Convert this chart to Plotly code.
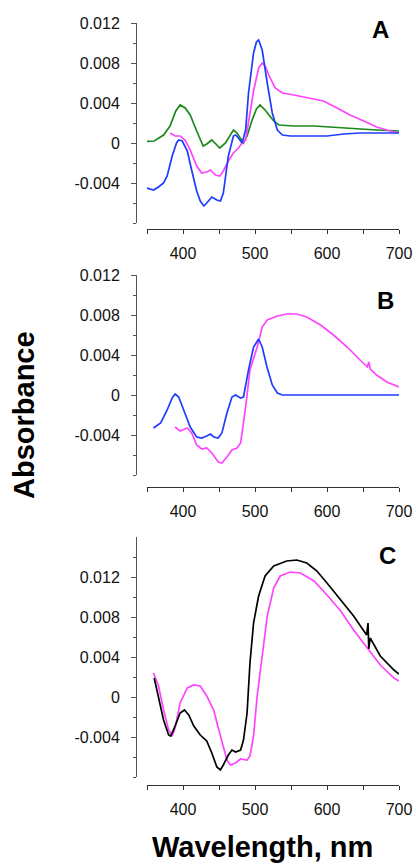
import plotly.graph_objects as go

# Panel A spectra
a_green_wl = [350, 360, 373, 382, 390, 396, 403, 410, 419, 428, 433, 440, 447, 451, 459, 466, 470, 475, 482, 484, 489, 496, 502, 507, 514, 520, 526, 533, 554, 582, 623, 669, 700]
a_green_abs = [0.00017, 0.0002, 0.0008, 0.0017, 0.0032, 0.0038, 0.0035, 0.0028, 0.0012, -0.0003, -0.0001, 0.0003, -0.0002, -0.0005, 0.0, 0.0009, 0.0013, 0.001, 0.0002, 0.0, 0.0007, 0.0023, 0.0034, 0.0038, 0.0033, 0.0027, 0.0022, 0.0018, 0.0017, 0.0017, 0.0015, 0.0013, 0.0012]

a_blue_wl = [350, 359, 366, 373, 378, 385, 391, 394, 399, 406, 412, 419, 424, 429, 433, 440, 447, 452, 456, 463, 470, 473, 477, 482, 487, 491, 498, 502, 505, 510, 517, 524, 531, 538, 549, 577, 600, 623, 646, 700]
a_blue_abs = [-0.0045, -0.0047, -0.0044, -0.004, -0.0033, -0.0013, 0.0, 0.0003, 0.0002, -0.0008, -0.0027, -0.0048, -0.0058, -0.0063, -0.006, -0.0054, -0.0057, -0.0058, -0.005, -0.0013, 0.0007, 0.0008, 0.0005, 0.0, 0.0013, 0.005, 0.009, 0.0101, 0.0103, 0.0093, 0.006, 0.003, 0.0013, 0.0008, 0.0007, 0.0007, 0.0007, 0.0009, 0.001, 0.001]

a_pink_wl = [382, 389, 396, 403, 410, 419, 426, 433, 438, 445, 451, 456, 463, 470, 477, 482, 487, 491, 498, 505, 510, 514, 521, 528, 538, 554, 577, 595, 614, 632, 651, 669, 688, 700]
a_pink_abs = [0.001, 0.0007, 0.0007, 0.0003, -0.0007, -0.0023, -0.003, -0.0029, -0.0027, -0.0032, -0.0033, -0.0028, -0.0018, -0.001, -0.0005, 0.0, 0.0003, 0.002, 0.0052, 0.0075, 0.008, 0.0077, 0.0065, 0.0055, 0.005, 0.0048, 0.0045, 0.0042, 0.0035, 0.0028, 0.0022, 0.0016, 0.0012, 0.001]

# Panel B spectra
b_blue_wl = [359, 369, 378, 385, 389, 394, 401, 410, 419, 426, 433, 438, 443, 449, 454, 461, 468, 473, 480, 484, 491, 498, 505, 510, 517, 524, 531, 538, 580, 640, 700]
b_blue_abs = [-0.0033, -0.0028, -0.0015, -0.0003, 0.0001, -0.0002, -0.0015, -0.0032, -0.0042, -0.0043, -0.0041, -0.0039, -0.0042, -0.0043, -0.0038, -0.0018, -0.0002, 0.0, -0.0003, -0.0002, 0.0025, 0.0048, 0.0056, 0.0048, 0.0027, 0.001, 0.0002, 0.0, 0.0, 0.0, 0.0]

b_pink_wl = [389, 396, 406, 412, 419, 426, 433, 440, 449, 454, 461, 468, 475, 480, 487, 493, 503, 510, 517, 531, 544, 558, 572, 591, 609, 628, 646, 656, 658, 660, 669, 683, 700]
b_pink_abs = [-0.0032, -0.0036, -0.0033, -0.0038, -0.005, -0.0054, -0.0053, -0.0058, -0.0067, -0.0068, -0.0062, -0.0055, -0.0053, -0.0048, -0.0012, 0.0025, 0.0048, 0.0068, 0.0075, 0.0079, 0.0081, 0.0081, 0.0078, 0.007, 0.006, 0.0048, 0.0035, 0.0028, 0.0033, 0.0026, 0.002, 0.0013, 0.0008]

# Panel C spectra
c_black_wl = [360, 366, 373, 380, 383, 389, 396, 402, 408, 415, 424, 433, 440, 447, 452, 456, 463, 468, 473, 480, 484, 489, 493, 498, 505, 514, 526, 544, 558, 572, 586, 600, 619, 637, 655, 657, 658, 660, 674, 693, 700]
c_black_abs = [0.0019, 0.0001, -0.0023, -0.0038, -0.0039, -0.0029, -0.0016, -0.0013, -0.0018, -0.0029, -0.0038, -0.0044, -0.0056, -0.007, -0.0073, -0.0068, -0.0058, -0.0053, -0.0055, -0.0053, -0.0043, -0.0016, 0.0034, 0.0074, 0.0101, 0.0121, 0.0131, 0.0136, 0.0137, 0.0134, 0.0126, 0.0114, 0.0097, 0.0081, 0.0062, 0.0074, 0.0048, 0.0059, 0.0041, 0.0027, 0.0023]

c_pink_wl = [359, 366, 373, 380, 385, 389, 396, 406, 415, 424, 433, 443, 449, 456, 461, 466, 473, 480, 489, 493, 498, 503, 510, 517, 526, 535, 549, 563, 582, 600, 619, 637, 656, 674, 693, 700]
c_pink_abs = [0.0024, 0.0011, -0.0013, -0.0033, -0.0039, -0.0031, -0.0006, 0.0009, 0.0012, 0.0011, 0.0001, -0.0014, -0.0031, -0.0049, -0.0063, -0.0068, -0.0066, -0.0062, -0.0063, -0.0059, -0.0039, 0.0001, 0.0044, 0.0081, 0.0109, 0.0121, 0.0125, 0.0124, 0.0116, 0.0102, 0.0086, 0.0067, 0.0049, 0.0032, 0.0019, 0.0016]

y_tickvals = [-0.004, 0, 0.004, 0.008, 0.012]
y_ticktext = ["-0.004", "0", "0.004", "0.008", "0.012"]
y_minor = [-0.008, -0.006, -0.002, 0.002, 0.006, 0.010, 0.014]
x_tickvals = [350, 400, 450, 500, 550, 600, 650, 700]
x_ticktext = ["", "400", "", "500", "", "600", "", "700"]

BLUE = "#1f3cff"
PINK = "#ff44ff"
GREEN = "#1a8a1a"
BLACK = "#000000"

W, H = 416, 865
FONT = "Liberation Sans, Arial, sans-serif"

def px_y(p):
    return 1 - p / H

def px_x(p):
    return p / W

fig = go.Figure()

panels = [
    # (y top px, y bottom px, x axis px, yrange, traces)
    (23, 223, 229, [-0.008, 0.012],
     [(a_green_wl, a_green_abs, GREEN), (a_pink_wl, a_pink_abs, PINK), (a_blue_wl, a_blue_abs, BLUE)]),
    (275, 475, 487, [-0.008, 0.012],
     [(b_pink_wl, b_pink_abs, PINK), (b_blue_wl, b_blue_abs, BLUE)]),
    (537, 777, 785, [-0.008, 0.016],
     [(c_pink_wl, c_pink_abs, PINK), (c_black_wl, c_black_abs, BLACK)]),
]

layout = {}
for i, (ytop, ybot, xpos, yr, traces) in enumerate(panels, start=1):
    sfx = "" if i == 1 else str(i)
    for wl, ab, col in traces:
        fig.add_trace(go.Scatter(x=wl, y=ab, mode="lines", line=dict(color=col, width=1.7),
                                 xaxis="x" + sfx, yaxis="y" + sfx, showlegend=False, hoverinfo="skip"))
    layout["xaxis" + sfx] = dict(
        domain=[px_x(147), px_x(399)], range=[350, 700], anchor="free", position=px_y(xpos),
        automargin=False,
        showline=True, linecolor="#333", linewidth=1, showgrid=False, zeroline=False,
        tickmode="array", tickvals=x_tickvals, ticktext=x_ticktext,
        ticks="outside", ticklen=4, tickcolor="#333", ticklabelstandoff=6,
        tickfont=dict(family=FONT, size=16, color="#111"),
    )
    layout["yaxis" + sfx] = dict(
        domain=[px_y(ybot), px_y(ytop)], range=yr, anchor="free", position=px_x(136),
        automargin=False,
        showline=True, linecolor="#555", linewidth=1, showgrid=False, zeroline=False,
        tickmode="array", tickvals=y_tickvals, ticktext=y_ticktext,
        ticks="outside", ticklen=5, tickcolor="#555", ticklabelstandoff=8,
        minor=dict(tickmode="array", tickvals=y_minor, ticks="outside", ticklen=3, tickcolor="#555"),
        tickfont=dict(family=FONT, size=16, color="#111"),
    )

ann = [
    dict(text="<b>A</b>", x=px_x(380), y=px_y(30), size=24),
    dict(text="<b>B</b>", x=px_x(385), y=px_y(300), size=24),
    dict(text="<b>C</b>", x=px_x(387), y=px_y(555), size=24),
]
annotations = [dict(text=a["text"], x=a["x"], y=a["y"], xref="paper", yref="paper",
                    showarrow=False, xanchor="center", yanchor="middle",
                    font=dict(family=FONT, size=a["size"], color="#000")) for a in ann]
annotations.append(dict(text="<b>Wavelength, nm</b>", x=px_x(262), y=px_y(847), xref="paper", yref="paper",
                        showarrow=False, xanchor="center", yanchor="middle",
                        font=dict(family=FONT, size=29, color="#000")))
annotations.append(dict(text="<b>Absorbance</b>", x=px_x(24), y=px_y(415), xref="paper", yref="paper",
                        showarrow=False, textangle=-90, xanchor="center", yanchor="middle",
                        font=dict(family=FONT, size=29, color="#000")))

fig.update_layout(
    width=W, height=H, margin=dict(l=0, r=0, t=0, b=0, autoexpand=False), autosize=False,
    paper_bgcolor="white", plot_bgcolor="white", hovermode=False,
    annotations=annotations, **layout,
)

# drop the default page margin and scrollbars so the figure fills the window exactly
fig.write_html("out.html", config={"displayModeBar": False, "responsive": False},
               post_script="document.body.style.margin='0';document.body.style.overflow='hidden';")
